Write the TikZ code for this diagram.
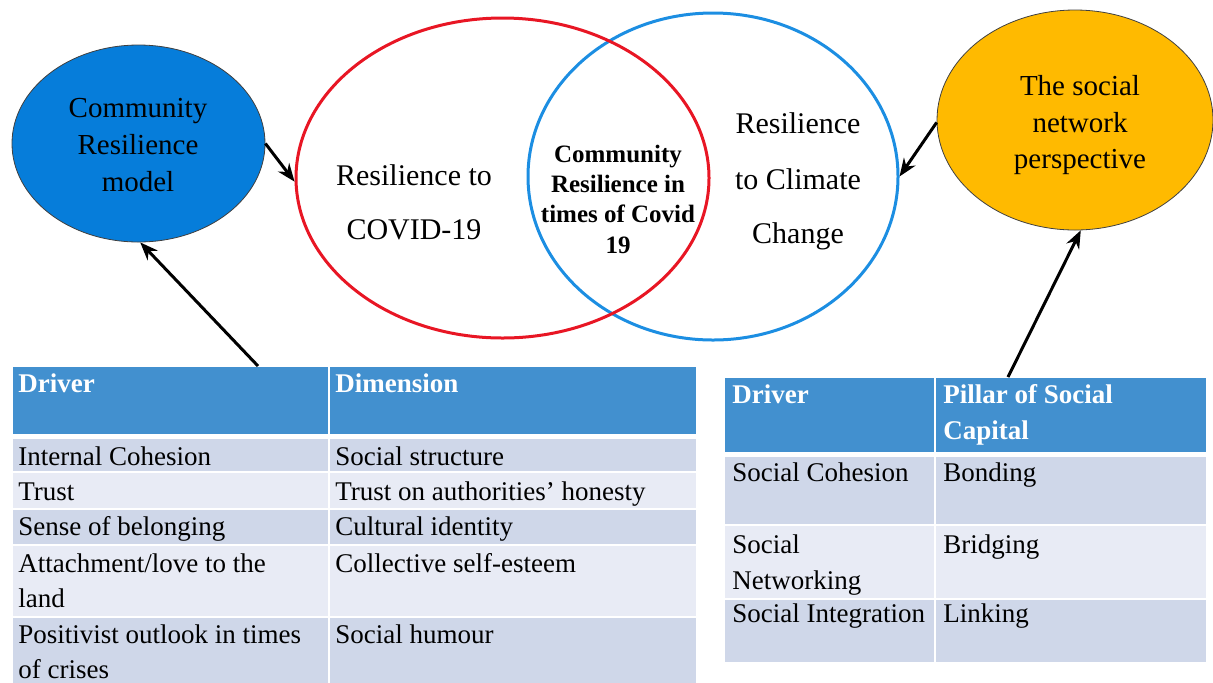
\documentclass[tikz,border=0pt]{standalone}
\usepackage{fontspec}
\setmainfont{LiberationSerif}[Extension=.ttf, UprightFont=*-Regular, BoldFont=*-Bold, ItalicFont=*-Italic, BoldItalicFont=*-BoldItalic]
\usetikzlibrary{shapes.geometric,arrows.meta}
\definecolor{hdr}{RGB}{66,144,207}
\definecolor{rowA}{RGB}{207,215,233}
\definecolor{rowB}{RGB}{232,235,245}
\definecolor{cblue}{RGB}{6,125,218}
\definecolor{cyel}{RGB}{255,186,0}
\definecolor{cred}{RGB}{232,22,36}
\definecolor{cblu2}{RGB}{28,142,226}
\begin{document}
\begin{tikzpicture}[x=0.5pt,y=-0.5pt,
  ell/.style={ellipse, draw=black!75, line width=0.4pt, inner sep=0pt},
  venn/.style={ellipse, line width=1.5pt, inner sep=0pt},
  ctxt/.style={anchor=base, inner sep=0pt, font=\fontsize{15}{18}\selectfont},
  etxt/.style={anchor=base, inner sep=0pt, font=\fontsize{14.5}{18}\selectfont},
  btxt/.style={anchor=base, inner sep=0pt, font=\bfseries\fontsize{12.5}{15}\selectfont},
  ttxt/.style={anchor=base west, inner sep=0pt, font=\fontsize{13.5}{17}\selectfont},
  htxt/.style={anchor=base west, inner sep=0pt, text=white, font=\bfseries\fontsize{13.5}{17}\selectfont},
  cellA/.style={fill=rowA, draw=white, line width=0.75pt},
  cellB/.style={fill=rowB, draw=white, line width=0.75pt},
  cellH/.style={fill=hdr, draw=white, line width=0.75pt},
  arr/.style={line width=1.5pt, -{Stealth[length=9pt,width=7pt]}}
]
\useasboundingbox (0,0) rectangle (1213,682);

% ---- Ellipses ----
\node[ell, fill=cblue, minimum width=126.5pt, minimum height=98.5pt] (crm) at (138.5,143.5) {};
\node[etxt] (crm1) at (138,117) {Community};
\node[etxt] (crm2) at (138,154) {Resilience};
\node[etxt] (crm3) at (138,191) {model};

\node[ell, fill=cyel, minimum width=138pt, minimum height=110pt] (snp) at (1075,120) {};
\node[etxt] (snp1) at (1080,95) {The social};
\node[etxt] (snp2) at (1080,132) {network};
\node[etxt] (snp3) at (1080,168) {perspective};

% ---- Venn ----
\node[venn, draw=cblu2, minimum width=185pt, minimum height=163.5pt] (clim) at (713,176.5) {};
\node[venn, draw=cred, minimum width=206.5pt, minimum height=160pt] (covid) at (502.5,178) {};

\node[ctxt] (cv1) at (414,185) {Resilience to};
\node[ctxt] (cv2) at (414,239) {COVID-19};
\node[ctxt] (cl1) at (798,133) {Resilience};
\node[ctxt] (cl2) at (798,189) {to Climate};
\node[ctxt] (cl3) at (798,243) {Change};
\node[btxt] (in1) at (618,162) {Community};
\node[btxt] (in2) at (618,192) {Resilience in};
\node[btxt] (in3) at (618,222) {times of Covid};
\node[btxt] (in4) at (618,253) {19};

% ---- Left table ----
\fill[cellH] (12,366) rectangle (329,435);
\fill[cellH] (329,366) rectangle (697,435);
\fill[cellA] (12,438) rectangle (329,472);
\fill[cellA] (329,438) rectangle (697,472);
\fill[cellB] (12,472) rectangle (329,509);
\fill[cellB] (329,472) rectangle (697,509);
\fill[cellA] (12,509) rectangle (329,545);
\fill[cellA] (329,509) rectangle (697,545);
\fill[cellB] (12,545) rectangle (329,617);
\fill[cellB] (329,545) rectangle (697,617);
\fill[cellA] (12,617) rectangle (329,684);
\fill[cellA] (329,617) rectangle (697,684);

\node[htxt] (lh1) at (18,392) {Driver};
\node[htxt] (lh2) at (335,392) {Dimension};
\node[ttxt] (l11) at (18,465) {Internal Cohesion};
\node[ttxt] (l12) at (335,465) {Social structure};
\node[ttxt] (l21) at (18,500) {Trust};
\node[ttxt] (l22) at (335,500) {Trust on authorities’ honesty};
\node[ttxt] (l31) at (18,535) {Sense of belonging};
\node[ttxt] (l32) at (335,535) {Cultural identity};
\node[ttxt] (l41) at (18,572) {Attachment/love to the};
\node[ttxt] (l41b) at (18,607) {land};
\node[ttxt] (l42) at (335,572) {Collective self-esteem};
\node[ttxt] (l51) at (18,643) {Positivist outlook in times};
\node[ttxt] (l51b) at (18,678) {of crises};
\node[ttxt] (l52) at (335,643) {Social humour};

% ---- Right table ----
\fill[cellH] (724,377) rectangle (935,453);
\fill[cellH] (935,377) rectangle (1207,453);
\fill[cellA] (724,456) rectangle (935,525);
\fill[cellA] (935,456) rectangle (1207,525);
\fill[cellB] (724,525) rectangle (935,599);
\fill[cellB] (935,525) rectangle (1207,599);
\fill[cellA] (724,599) rectangle (935,663);
\fill[cellA] (935,599) rectangle (1207,663);

\node[htxt] (rh1) at (732,403) {Driver};
\node[htxt] (rh2) at (943,403) {Pillar of Social};
\node[htxt] (rh2b) at (943,439) {Capital};
\node[ttxt] (r11) at (732,481) {Social Cohesion};
\node[ttxt] (r12) at (943,481) {Bonding};
\node[ttxt] (r21) at (732,553) {Social};
\node[ttxt] (r21b) at (732,589) {Networking};
\node[ttxt] (r22) at (943,553) {Bridging};
\node[ttxt] (r31) at (732,622) {Social Integration};
\node[ttxt] (r32) at (943,622) {Linking};

% ---- Connectors ----
\coordinate (ltop) at (258,366);
\coordinate (rtop) at (1008,377);
\draw[arr] (crm.0) -- (covid.181);
\draw[arr] (snp.181) -- (clim.0);
\draw[arr] (ltop) -- (crm.271);
\draw[arr] (rtop) -- (snp.273);
\end{tikzpicture}
\end{document}
